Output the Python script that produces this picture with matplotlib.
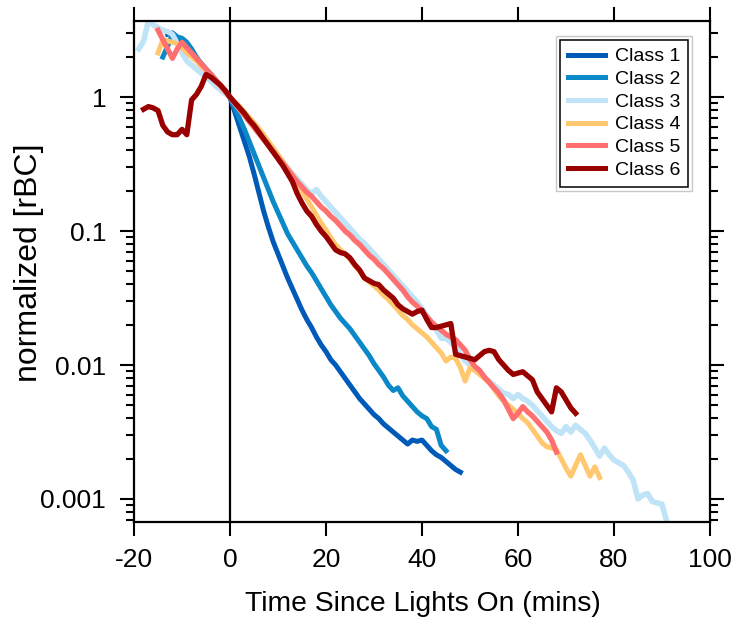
import matplotlib
matplotlib.use("Agg")
import matplotlib.pyplot as plt
import numpy as np
from matplotlib.patches import Rectangle
from matplotlib.ticker import LogLocator, NullFormatter

plt.rcParams['font.family'] = ['Liberation Sans', 'DejaVu Sans']
plt.rcParams['axes.unicode_minus'] = False

labels = ['Class 1', 'Class 2', 'Class 3', 'Class 4', 'Class 5', 'Class 6']
colors = ['#005ab8', '#0a88c8', '#bfe3f7', '#ffc86e', '#ff6f6f', '#990000']
widths = [3.6, 3.6, 4.0, 3.6, 3.8, 3.8]

# first minute of each record (minutes relative to lights on)
starts = [-13, -14, -19, -15, -15, -18]

# log10 of normalized rBC, one value per minute
class1 = [0.47, 0.48, 0.45, 0.41, 0.37, 0.33, 0.29, 0.25, 0.21, 0.17, 0.13, 0.085, 0.045,
          0, -0.11, -0.22, -0.33, -0.44, -0.57, -0.71, -0.85, -0.97, -1.08, -1.17, -1.26,
          -1.35, -1.43, -1.51, -1.59, -1.66, -1.72, -1.79, -1.85, -1.90, -1.96, -2.00, -2.05,
          -2.10, -2.15, -2.20, -2.25, -2.29, -2.33, -2.37, -2.40, -2.44, -2.47, -2.50, -2.53,
          -2.56, -2.59, -2.56, -2.57, -2.56, -2.60, -2.64, -2.67, -2.69, -2.72, -2.75, -2.78,
          -2.80]
class2 = [0.30, 0.38, 0.47, 0.45, 0.44, 0.41, 0.36, 0.30, 0.25, 0.21, 0.17, 0.13, 0.085, 0.045,
          0, -0.08, -0.16, -0.24, -0.33, -0.42, -0.51, -0.60, -0.69, -0.78, -0.86, -0.94,
          -1.02, -1.08, -1.14, -1.20, -1.26, -1.31, -1.37, -1.43, -1.49, -1.55, -1.60, -1.65,
          -1.69, -1.73, -1.78, -1.83, -1.88, -1.93, -1.99, -2.04, -2.09, -2.15, -2.19, -2.17,
          -2.23, -2.27, -2.31, -2.35, -2.38, -2.40, -2.46, -2.48, -2.60, -2.64]
class3 = [0.36, 0.42, 0.57, 0.54, 0.52, 0.50, 0.49, 0.47, 0.40, 0.33, 0.27, 0.24, 0.21, 0.18,
          0.15, 0.12, 0.085, 0.055, 0.027,
          0, -0.045, -0.09, -0.135, -0.18, -0.225, -0.27, -0.31, -0.355, -0.40, -0.44, -0.485,
          -0.53, -0.57, -0.61, -0.65, -0.69, -0.72, -0.69, -0.74, -0.78, -0.82, -0.86, -0.90,
          -0.94, -0.98, -1.02, -1.06, -1.09, -1.13, -1.17, -1.21, -1.25, -1.29, -1.33, -1.37,
          -1.41, -1.45, -1.49, -1.53, -1.58, -1.63, -1.68, -1.74, -1.80, -1.80, -1.83, -1.87,
          -1.92, -1.97, -2.00, -2.03, -2.06, -2.09, -2.12, -2.15, -2.18, -2.21, -2.22, -2.25,
          -2.22, -2.25, -2.27, -2.30, -2.34, -2.38, -2.42, -2.46, -2.49, -2.51, -2.46, -2.50,
          -2.45, -2.48, -2.51, -2.56, -2.62, -2.68, -2.62, -2.67, -2.71, -2.73, -2.75, -2.80,
          -2.86, -3.00, -2.97, -2.96, -3.02, -3.03, -3.04, -3.17]
class4 = [0.33, 0.43, 0.42, 0.41, 0.40, 0.37, 0.33, 0.30, 0.27, 0.23, 0.20, 0.16, 0.12, 0.08, 0.04,
          0, -0.035, -0.07, -0.11, -0.15, -0.19, -0.235, -0.28, -0.33, -0.38, -0.43, -0.48,
          -0.53, -0.58, -0.64, -0.70, -0.76, -0.82, -0.88, -0.94, -0.99, -1.05, -1.10, -1.14,
          -1.17, -1.21, -1.26, -1.30, -1.35, -1.38, -1.41, -1.44, -1.48, -1.51, -1.55, -1.59,
          -1.63, -1.66, -1.70, -1.73, -1.76, -1.79, -1.83, -1.87, -1.91, -1.97, -1.94, -1.95,
          -2.02, -2.12, -2.02, -2.04, -2.07, -2.10, -2.13, -2.18, -2.23, -2.27, -2.30, -2.33,
          -2.36, -2.40, -2.43, -2.48, -2.53, -2.58, -2.61, -2.62, -2.63, -2.70, -2.77, -2.83,
          -2.75, -2.67, -2.75, -2.83, -2.76, -2.84]
class5 = [0.50, 0.43, 0.36, 0.29, 0.36, 0.41, 0.37, 0.33, 0.29, 0.25, 0.21, 0.17, 0.13, 0.09, 0.045,
          0, -0.045, -0.09, -0.135, -0.18, -0.225, -0.27, -0.315, -0.36, -0.405, -0.45, -0.495,
          -0.54, -0.585, -0.63, -0.67, -0.71, -0.74, -0.78, -0.82, -0.85, -0.89, -0.92, -0.96,
          -1.00, -1.03, -1.07, -1.10, -1.14, -1.18, -1.21, -1.25, -1.28, -1.32, -1.36, -1.40,
          -1.44, -1.49, -1.53, -1.56, -1.60, -1.64, -1.68, -1.71, -1.74, -1.77, -1.79, -1.81,
          -1.85, -1.89, -1.96, -2.01, -2.04, -2.09, -2.13, -2.17, -2.21, -2.26, -2.33, -2.40,
          -2.36, -2.31, -2.35, -2.38, -2.42, -2.46, -2.50, -2.56, -2.65]
class6 = [-0.09, -0.07, -0.08, -0.10, -0.21, -0.26, -0.28, -0.28, -0.24, -0.28, -0.02, 0.02,
          0.08, 0.17, 0.15, 0.12, 0.09, 0.05,
          0, -0.04, -0.08, -0.12, -0.17, -0.21, -0.26, -0.31, -0.36, -0.41, -0.46, -0.51,
          -0.57, -0.63, -0.72, -0.79, -0.85, -0.89, -0.95, -1.00, -1.04, -1.09, -1.14, -1.16,
          -1.17, -1.20, -1.25, -1.29, -1.35, -1.37, -1.39, -1.40, -1.44, -1.47, -1.50, -1.55,
          -1.58, -1.60, -1.62, -1.60, -1.59, -1.66, -1.72, -1.72, -1.71, -1.70, -1.69, -1.92,
          -1.93, -1.94, -1.95, -1.96, -1.93, -1.90, -1.89, -1.90, -1.96, -2.00, -2.04, -2.07,
          -2.06, -2.05, -2.08, -2.11, -2.20, -2.25, -2.30, -2.35, -2.17, -2.20, -2.26, -2.32,
          -2.36]

series = [class1, class2, class3, class4, class5, class6]

fig = plt.figure(figsize=(7.35, 6.24), dpi=100)
ax = fig.add_axes([134 / 735, 102 / 624, 576 / 735, 501 / 624])

ax.axvline(0, color='k', lw=1.6, zorder=1)
for start, vals, lab, col, lw in zip(starts, series, labels, colors, widths):
    t = start + np.arange(len(vals))
    ax.plot(t, np.power(10.0, vals), color=col, lw=lw, label=lab, zorder=2)

ax.set_yscale('log')
ax.set_xlim(-20, 100)
ax.set_ylim(10 ** -3.172, 10 ** 0.569)

ax.set_xticks(range(-20, 101, 20))
ax.set_yticks([0.001, 0.01, 0.1, 1])
ax.set_yticklabels(['0.001', '0.01', '0.1', '1'])
ax.yaxis.set_minor_locator(LogLocator(base=10, subs=np.arange(2, 10), numticks=20))
ax.yaxis.set_minor_formatter(NullFormatter())

ax.tick_params(axis='x', which='major', direction='out', length=10, width=1.5,
               top=True, labelsize=19, pad=9)
ax.tick_params(axis='y', which='major', direction='out', length=10, width=1.5,
               right=True, labelsize=19, pad=10)
ax.tick_params(axis='y', which='minor', direction='out', length=6, width=1.5, right=True)
for sp in ax.spines.values():
    sp.set_linewidth(1.6)

ax.set_xlabel('Time Since Lights On (mins)', fontsize=20.3)
ax.set_ylabel('normalized [rBC]', fontsize=23)
ax.xaxis.set_label_coords(0.501, -0.138)
ax.yaxis.set_label_coords(-0.157, 0.517)

leg = ax.legend(loc='upper right', bbox_to_anchor=(1 - 22 / 576, 1 - 19 / 501),
                borderaxespad=0, fontsize=14, fancybox=False, edgecolor='k',
                framealpha=1, handlelength=1.9, handletextpad=0.5,
                labelspacing=0.26, borderpad=0.4)
leg.get_frame().set_linewidth(1.1)
for h in leg.get_lines():
    h.set_linewidth(3.6)

# thin grey outline around the legend box
fig.canvas.draw()
bb = leg.get_window_extent()
pad = 4
W, H = fig.bbox.width, fig.bbox.height
fig.patches.append(Rectangle(((bb.x0 - pad) / W, (bb.y0 - pad) / H),
                             (bb.width + 2 * pad) / W, (bb.height + 2 * pad) / H,
                             transform=fig.transFigure, fill=False,
                             edgecolor='#c8c8c8', lw=1))

fig.savefig('out.png', dpi=100)
